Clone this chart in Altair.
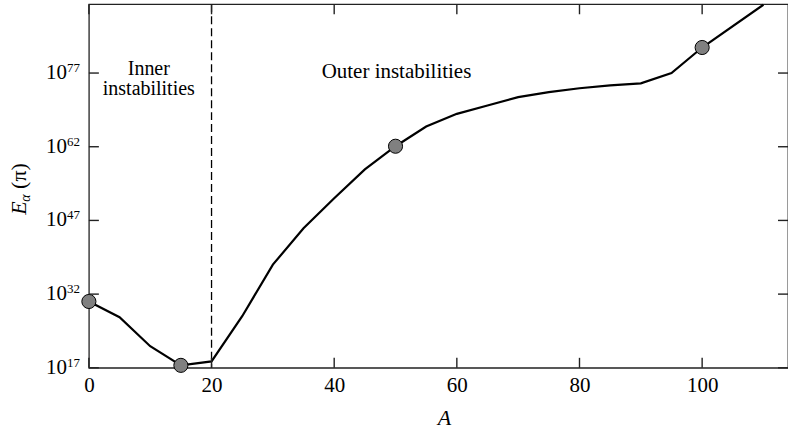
import altair as alt
import pandas as pd

# Stability energy versus A (exponents of ten)
A_line = [0, 5, 10, 15, 20, 25, 30, 35, 40, 45, 50, 55, 60, 65, 70, 75, 80, 85, 90, 95, 100, 110]
log_E_line = [30.5, 27.3, 21.4, 17.5, 18.3, 27.5, 38.0, 45.4, 51.5, 57.4, 62.1, 66.1,
              68.7, 70.4, 72.1, 73.1, 73.9, 74.5, 74.9, 77.0, 82.2, 90.9]

# Highlighted configurations
A_marked = [0, 15, 50, 100]
log_E_marked = [30.5, 17.5, 62.1, 82.2]

# Boundary between inner and outer instabilities
A_boundary = [20]

x_ticks = [0, 20, 40, 60, 80, 100]
y_tick_exp = [17, 32, 47, 62, 77]

W, H = 700, 364
FONT = "Liberation Serif"

line_df = pd.DataFrame({"A": A_line, "E": [10.0 ** e for e in log_E_line]})
mark_df = pd.DataFrame({"A": A_marked, "E": [10.0 ** e for e in log_E_marked]})
xt_df = pd.DataFrame({"A": x_ticks})
yt_df = pd.DataFrame({"E": [10.0 ** e for e in y_tick_exp],
                      "base": ["10"] * len(y_tick_exp),
                      "exp": [str(e) for e in y_tick_exp]})
bd_df = pd.DataFrame({"A": A_boundary})

xs = alt.Scale(domain=[0, 114], nice=False, zero=False)
ys = alt.Scale(type="log", domain=[1e17, 1e91], nice=False)

x_axis = alt.Axis(values=x_ticks, ticks=False, domain=False, grid=False, title=None,
                  labelFont=FONT, labelFontSize=21, labelColor="black", labelPadding=7,
                  labelOverlap=False, labelFlush=False)

curve = alt.Chart(line_df).mark_line(color="black", strokeWidth=2.2).encode(
    x=alt.X("A:Q", scale=xs, axis=x_axis),
    y=alt.Y("E:Q", scale=ys, axis=None),
)

points = alt.Chart(mark_df).mark_point(
    filled=True, fill="#808080", stroke="black", strokeWidth=1, size=200, opacity=1, clip=False
).encode(x=alt.X("A:Q", scale=xs), y=alt.Y("E:Q", scale=ys))

boundary = alt.Chart(bd_df).mark_rule(color="black", strokeWidth=1.3, strokeDash=[8, 4]).encode(
    x=alt.X("A:Q", scale=xs)
)

# Inward-pointing ticks on all four sides
tick_style = dict(color="#222", strokeWidth=1.4)
ticks_bottom = alt.Chart(xt_df).mark_rule(**tick_style).encode(
    x=alt.X("A:Q", scale=xs), y=alt.value(H), y2=alt.value(H - 10))
ticks_top = alt.Chart(xt_df).mark_rule(**tick_style).encode(
    x=alt.X("A:Q", scale=xs), y=alt.value(0), y2=alt.value(10))
ticks_left = alt.Chart(yt_df).mark_rule(**tick_style).encode(
    y=alt.Y("E:Q", scale=ys), x=alt.value(0), x2=alt.value(10))
ticks_right = alt.Chart(yt_df).mark_rule(**tick_style).encode(
    y=alt.Y("E:Q", scale=ys), x=alt.value(W - 10), x2=alt.value(W))

# Power-of-ten labels: mantissa plus raised exponent
ylab_base = alt.Chart(yt_df).mark_text(
    font=FONT, fontSize=21, align="right", baseline="middle", color="black"
).encode(y=alt.Y("E:Q", scale=ys), x=alt.value(-22), text="base:N")
ylab_exp = alt.Chart(yt_df).mark_text(
    font=FONT, fontSize=13, align="left", baseline="middle", color="black", dy=-5
).encode(y=alt.Y("E:Q", scale=ys), x=alt.value(-22), text="exp:N")


def label(text, x, y, size=21, style="normal", angle=0):
    return alt.Chart(pd.DataFrame({"t": [text]})).mark_text(
        font=FONT, fontSize=size, fontStyle=style, align="center", baseline="middle",
        color="black", angle=angle
    ).encode(x=alt.value(x), y=alt.value(y), text="t:N")


annotations = [
    label("Inner", 60, 65, size=20),
    label("instabilities", 60, 85, size=20),
    label("Outer instabilities", 308, 68),
    label("A", 356, H + 50, size=22, style="italic"),
    label("E", -70, 204, size=22, style="italic", angle=270),
    label("α", -63, 194, size=14, style="italic", angle=270),
    label("(π)", -70, 172, size=22, angle=270),
]

chart = alt.layer(
    boundary, curve, points, ticks_bottom, ticks_top, ticks_left, ticks_right,
    ylab_base, ylab_exp, *annotations
).properties(
    width=W, height=H,
    autosize=alt.AutoSizeParams(type="none"),
    padding={"left": 89, "top": 4, "right": 0, "bottom": 65},
    background="white",
).configure_view(stroke="#222", strokeWidth=1.3)

chart.save("out.html", embed_options={"renderer": "svg", "actions": False})
